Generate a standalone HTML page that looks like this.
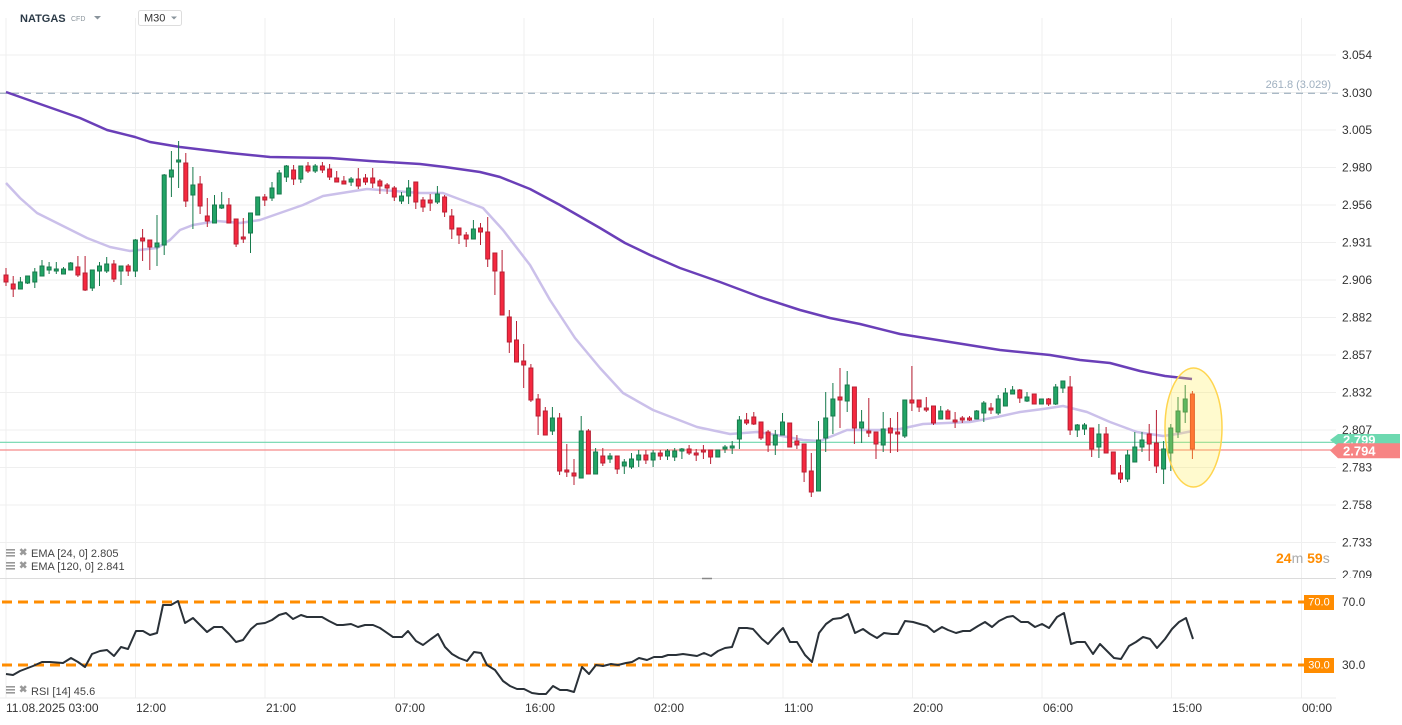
<!DOCTYPE html>
<html><head><meta charset="utf-8"><style>
html,body{margin:0;padding:0;background:#fff;}
svg{display:block;font-family:"Liberation Sans",Arial,sans-serif;}
</style></head><body>
<svg width="1402" height="725" viewBox="0 0 1402 725" xmlns="http://www.w3.org/2000/svg">
<defs><clipPath id="mainclip"><rect x="0" y="0" width="1402" height="578"/></clipPath></defs>
<rect width="1402" height="725" fill="#fff"/>
<!-- horizontal grid main -->
<g stroke="#efefef" stroke-width="1">
<path d="M0,55H1336M0,92.5H1336M0,130H1336M0,167.5H1336M0,205H1336M0,242.5H1336M0,280H1336M0,317.5H1336M0,355H1336M0,392.5H1336M0,430H1336M0,467.5H1336M0,505H1336M0,542.5H1336"/>
<path d="M6,18V698M135.5,18V698M265,18V698M394.5,18V698M524,18V698M653.5,18V698M783,18V698M912.5,18V698M1042,18V698M1171.5,18V698M1301.5,18V698"/>
</g>
<!-- panel separators -->
<path d="M0,578.5H1336" stroke="#dcdcdc" stroke-width="1"/>
<path d="M0,698H1336" stroke="#ececec" stroke-width="1"/>
<path d="M702,578.5H712" stroke="#888" stroke-width="1.5"/>
<!-- fib dashed line -->
<path d="M0,93.3H1338" stroke="#8ea2b4" stroke-width="1" stroke-dasharray="7,5"/>
<text x="1331" y="85" font-size="11" fill="#9fb0c0" text-anchor="end" dominant-baseline="central">261.8 (3.029)</text>
<!-- EMAs -->
<polyline fill="none" stroke="#cbc0ea" stroke-width="2.5" stroke-linejoin="round" points="6,183 20,198 37,213 67,228 87,238 110,247 130,251 157,248 170,240 180,230 193,225 217,221 240,223 260,220 280,213 303,205 323,196 367,189 420,193 443,193 483,208 503,230 530,265 550,300 575,338 600,368 623,393 653,410 697,427 730,434 757,432 777,435 803,440 820,441 847,430 880,430 900,429 923,424 970,422 997,417 1020,412 1043,409 1063,406 1087,412 1110,422 1137,432 1163,436 1177,434 1193,431"/>
<polyline fill="none" stroke="#6a3fb8" stroke-width="2.5" stroke-linejoin="round" points="6,92 40,104 80,118 107,130 135,137 150,142 180,147 230,153 270,157 330,158 370,161 420,164 445,167 480,172 500,177 515,183 530,189 560,205 600,228 625,243 650,255 680,268 720,282 760,297 800,310 830,318 860,324 900,334 950,342 1000,350 1050,355 1080,360 1110,363 1140,371 1165,376 1192,379"/>
<!-- price lines -->
<path d="M0,442.3H1334" stroke="#6fd6ad" stroke-width="1.2"/>
<path d="M0,450H1334" stroke="#f58a8a" stroke-width="1.2"/>
<!-- green candles -->
<path fill="none" stroke="#177a4c" stroke-width="1" d="M20.4,277V289M27.6,276V284M34.8,268V288M42,260V276M49.1,262V274M56.3,262V274M63.5,267V274M70.7,262V270M92.3,270V291M99.5,262V286M106.7,257V273M121,266V285M135.4,239V277M157,215V266M164.2,174V255M171.4,151V197M178.6,141V188M192.9,167V229M214.5,195V223M221.7,192V209M250.5,213V253M257.7,197V215M272,182V201M279.2,170V194M286.4,165V182M300.8,166V183M315.2,164V173M351.1,177V186M401.5,192V204M408.6,180V204M437.4,186V204M473.4,220V239M552.4,407V435M581.2,416V478M595.6,448V474M610,453V463M624.3,459V474M631.5,453V469M638.7,450V467M653.1,450V467M667.5,449V460M674.7,448V461M681.9,448V459M717.8,450V457M725,445V453M732.2,441V454M739.4,416V449M775.3,430V455M782.5,413V435M818.5,421V491M825.7,392V452M832.9,383V434M847.2,371V412M861.6,410V443M883.2,412V452M904.8,400V438M940.7,406V419M976.7,410V419M983.8,401V422M998.2,395V415M1005.4,388V406M1012.6,386V394M1027,392V402M1041.4,399V404M1055.7,384V405M1062.9,381V393M1077.3,424V437M1084.5,423V435M1098.9,424V458M1127.6,450V482M1134.8,432V462M1142,432V452M1163.6,441V484M1170.8,424V471M1178,397V438M1185.2,385V423"/>
<path fill="#22a466" stroke="#177a4c" stroke-width="1" d="M18.4,282h4v7h-4zM25.6,276h4v7h-4zM32.8,272h4v10h-4zM40,266h4v10h-4zM47.1,267h4v3h-4zM54.3,269h4v2h-4zM61.5,269h4v5h-4zM68.7,263h4v7h-4zM90.3,270h4v18h-4zM97.5,266h4v5h-4zM104.7,264h4v7h-4zM119,266h4v5h-4zM133.4,240h4v31h-4zM155,243h4v4h-4zM162.2,175h4v70h-4zM169.4,170h4v7h-4zM176.6,160h4v2h-4zM190.9,185h4v10h-4zM212.5,205h4v18h-4zM219.7,205h4v3h-4zM248.5,213h4v20h-4zM255.7,197h4v18h-4zM270,188h4v10h-4zM277.2,173h4v21h-4zM284.4,166h4v11h-4zM298.8,166h4v13h-4zM313.2,166h4v5h-4zM349.1,179h4v3h-4zM399.5,196h4v5h-4zM406.6,188h4v8h-4zM435.4,194h4v8h-4zM471.4,229h4v10h-4zM550.4,418h4v13h-4zM579.2,431h4v47h-4zM593.6,452h4v22h-4zM608,456h4v3h-4zM622.3,462h4v4h-4zM629.5,459h4v8h-4zM636.7,455h4v5h-4zM651.1,453h4v7h-4zM665.5,451h4v5h-4zM672.7,451h4v6h-4zM679.9,449h4v2h-4zM715.8,450h4v7h-4zM723,447h4v2h-4zM730.2,446h4v2h-4zM737.4,420h4v19h-4zM773.3,435h4v10h-4zM780.5,422h4v13h-4zM816.5,440h4v51h-4zM823.7,418h4v20h-4zM830.9,399h4v17h-4zM845.2,385h4v16h-4zM859.6,422h4v6h-4zM881.2,429h4v16h-4zM902.8,400h4v36h-4zM938.7,411h4v8h-4zM974.7,411h4v8h-4zM981.8,403h4v10h-4zM996.2,399h4v14h-4zM1003.4,393h4v13h-4zM1010.6,390h4v4h-4zM1025,397h4v4h-4zM1039.4,399h4v5h-4zM1053.7,387h4v17h-4zM1060.9,381h4v7h-4zM1075.3,425h4v5h-4zM1082.5,425h4v4h-4zM1096.9,434h4v13h-4zM1125.6,455h4v24h-4zM1132.8,447h4v15h-4zM1140,440h4v7h-4zM1161.6,449h4v20h-4zM1168.8,428h4v25h-4zM1176,411h4v21h-4zM1183.2,399h4v13h-4z"/>
<!-- red candles -->
<path fill="none" stroke="#b81f33" stroke-width="1" d="M6,268V286M13.2,276V297M77.9,256V277M85.1,256V291M113.9,260V282M128.2,264V276M142.6,229V261M149.8,240V270M185.8,153V207M200.1,176V214M207.3,198V227M228.9,198V223M236.1,219V247M243.3,218V243M264.8,194V206M293.6,165V185M308,162V173M322.4,162V173M329.6,164V180M336.7,171V182M343.9,176V184M358.3,168V189M365.5,174V185M372.7,168V188M379.9,179V194M387.1,183V194M394.3,186V201M415.8,182V209M423,197V212M430.2,194V211M444.6,195V217M451.8,209V239M459,228V244M466.2,232V247M480.5,223V245M487.7,217V267M494.9,253V295M502.1,250V315M509.3,310V353M516.5,321V362M523.7,344V388M530.9,364V402M538.1,394V435M545.3,407V435M559.6,413V475M566.8,444V477M574,459V485M588.4,429V474M602.8,448V466M617.2,456V474M645.9,450V464M660.3,450V460M689.1,445V455M696.2,449V461M703.4,445V459M710.6,450V464M746.6,413V425M753.8,412V425M761,422V440M768.1,430V452M789.7,423V447M796.9,435V449M804.1,444V482M811.3,453V497M840,368V428M854.4,387V444M868.8,398V437M876,432V459M890.4,418V453M897.6,412V452M911.9,366V411M919.1,400V412M926.3,397V412M933.5,406V425M947.9,409V419M955.1,412V428M962.3,416V423M969.5,416V421M991,403V414M1019.8,389V403M1034.2,394V404M1048.6,398V406M1070.1,376V435M1091.7,428V457M1106.1,427V453M1113.3,452V474M1120.5,465V483M1149.2,424V461M1156.4,410V473"/>
<path fill="#f5293f" stroke="#b81f33" stroke-width="1" d="M4,275h4v7h-4zM11.2,284h4v5h-4zM75.9,267h4v8h-4zM83.1,273h4v17h-4zM111.9,264h4v15h-4zM126.2,266h4v5h-4zM140.6,238h4v3h-4zM147.8,240h4v7h-4zM183.8,163h4v38h-4zM198.1,184h4v22h-4zM205.3,216h4v5h-4zM226.9,205h4v18h-4zM234.1,219h4v25h-4zM241.3,237h4v2h-4zM262.8,197h4v3h-4zM291.6,170h4v9h-4zM306,166h4v5h-4zM320.4,166h4v4h-4zM327.6,169h4v8h-4zM334.7,178h4v4h-4zM341.9,181h4v3h-4zM356.3,179h4v7h-4zM363.5,178h4v4h-4zM370.7,178h4v5h-4zM377.9,181h4v5h-4zM385.1,185h4v3h-4zM392.3,188h4v9h-4zM413.8,182h4v20h-4zM421,200h4v7h-4zM428.2,200h4v3h-4zM442.6,197h4v15h-4zM449.8,216h4v13h-4zM457,228h4v7h-4zM464.2,235h4v4h-4zM478.5,228h4v4h-4zM485.7,232h4v27h-4zM492.9,253h4v18h-4zM500.1,272h4v43h-4zM507.3,317h4v25h-4zM514.5,340h4v22h-4zM521.7,361h4v4h-4zM528.9,368h4v32h-4zM536.1,399h4v17h-4zM543.3,411h4v24h-4zM557.6,418h4v53h-4zM564.8,470h4v2h-4zM572,473h4v3h-4zM586.4,431h4v43h-4zM600.8,456h4v7h-4zM615.2,456h4v13h-4zM643.9,455h4v5h-4zM658.3,453h4v3h-4zM687.1,449h4v4h-4zM694.2,453h4v2h-4zM701.4,450h4v2h-4zM708.6,450h4v7h-4zM744.6,420h4v3h-4zM751.8,417h4v7h-4zM759,422h4v16h-4zM766.1,432h4v13h-4zM787.7,423h4v24h-4zM794.9,441h4v4h-4zM802.1,444h4v28h-4zM809.3,471h4v21h-4zM838,397h4v3h-4zM852.4,387h4v41h-4zM866.8,431h4v2h-4zM874,432h4v12h-4zM888.4,428h4v5h-4zM895.6,432h4v2h-4zM909.9,400h4v3h-4zM917.1,400h4v7h-4zM924.3,408h4v2h-4zM931.5,406h4v17h-4zM945.9,411h4v8h-4zM953.1,420h4v2h-4zM960.3,418h4v2h-4zM967.5,418h4v2h-4zM989,408h4v2h-4zM1017.8,390h4v8h-4zM1032.2,394h4v10h-4zM1046.6,399h4v5h-4zM1068.1,387h4v43h-4zM1089.7,428h4v21h-4zM1104.1,434h4v19h-4zM1111.3,452h4v22h-4zM1118.5,473h4v6h-4zM1147.2,434h4v10h-4zM1154.4,443h4v23h-4z"/>
<!-- live candle -->
<path d="M1192.4,391V459" stroke="#d8321f" stroke-width="1"/>
<rect x="1190.4" y="394" width="4" height="55" fill="#ff4a2a" stroke="#d8321f" stroke-width="1"/>
<!-- highlight ellipse -->
<ellipse cx="1193.5" cy="427.5" rx="28.5" ry="59.5" fill="rgba(255,236,80,0.28)" stroke="#ffd54f" stroke-width="1.5"/>
<!-- price axis labels -->
<g font-size="12" fill="#333" dominant-baseline="central" clip-path="url(#mainclip)">
<text x="1342" y="55">3.054</text>
<text x="1342" y="93">3.030</text>
<text x="1342" y="130">3.005</text>
<text x="1342" y="167.5">2.980</text>
<text x="1342" y="205">2.956</text>
<text x="1342" y="242.5">2.931</text>
<text x="1342" y="280">2.906</text>
<text x="1342" y="317.5">2.882</text>
<text x="1342" y="355">2.857</text>
<text x="1342" y="392.5">2.832</text>
<text x="1342" y="430">2.807</text>
<text x="1342" y="467.5">2.783</text>
<text x="1342" y="505">2.758</text>
<text x="1342" y="542.5">2.733</text>
<text x="1342" y="575">2.709</text>
</g>
<!-- price tags -->
<path d="M1330,440L1338,434H1400V446H1338Z" fill="#6dd9b0"/>
<text x="1343" y="440" font-size="13" fill="#fff" font-weight="bold" dominant-baseline="central">2.799</text>
<path d="M1330,450.5L1338,443.3H1400V458.3H1338Z" fill="#f78484"/>
<text x="1343" y="451" font-size="13" fill="#fff" font-weight="bold" dominant-baseline="central">2.794</text>
<!-- timer -->
<text x="1276" y="558" font-size="14" dominant-baseline="central"><tspan fill="#ff8c00" font-weight="bold">24</tspan><tspan fill="#aaa">m </tspan><tspan fill="#ff8c00" font-weight="bold">59</tspan><tspan fill="#aaa">s</tspan></text>
<!-- EMA legend -->
<g font-size="11" fill="#444" dominant-baseline="central">
<g fill="#999"><rect x="6" y="549" width="9" height="1.6"/><rect x="6" y="552" width="9" height="1.6"/><rect x="6" y="555" width="9" height="1.6"/>
<rect x="6" y="562" width="9" height="1.6"/><rect x="6" y="565" width="9" height="1.6"/><rect x="6" y="568" width="9" height="1.6"/>
<rect x="6" y="686" width="9" height="1.6"/><rect x="6" y="689" width="9" height="1.6"/><rect x="6" y="692" width="9" height="1.6"/></g>
<text x="19" y="553" fill="#999" font-size="10" font-weight="bold">✖</text>
<text x="31" y="554">EMA [24,  0] 2.805</text>
<text x="19" y="566" fill="#999" font-size="10" font-weight="bold">✖</text>
<text x="31" y="567">EMA [120,  0] 2.841</text>
<text x="19" y="690" fill="#999" font-size="10" font-weight="bold">✖</text>
<text x="31" y="692">RSI  [14]  45.6</text>
</g>
<!-- RSI levels -->
<path d="M2,602H1304M2,665H1304" stroke="#ff8c00" stroke-width="3" stroke-dasharray="10,6"/>
<rect x="1304" y="595" width="30" height="15" fill="#ff8c00"/>
<text x="1319" y="602.5" font-size="11" fill="#fff" text-anchor="middle" dominant-baseline="central">70.0</text>
<rect x="1304" y="658" width="30" height="15" fill="#ff8c00"/>
<text x="1319" y="665.5" font-size="11" fill="#fff" text-anchor="middle" dominant-baseline="central">30.0</text>
<text x="1342" y="602" font-size="12" fill="#333" dominant-baseline="central">70.0</text>
<text x="1342" y="665" font-size="12" fill="#333" dominant-baseline="central">30.0</text>
<!-- RSI line -->
<polyline fill="none" stroke="#2a3138" stroke-width="2" stroke-linejoin="round" points="6,674 13,675 20,671 33,666 42,662 50,662 63,663 71,658 78,662 85,667 92,654 100,651 107,650 114,656 121,647 128,649 136,631 143,631 150,635 157,633 163,605 171,605 178,601 185,623 193,618 200,625 207,632 214,627 222,627 229,634 236,642 243,640 251,629 257,624 265,623 272,620 279,615 286,613 293,619 301,615 307,617 315,617 322,617 329,621 337,625 343,625 351,624 358,627 365,625 373,625 380,628 393,637 402,637 408,631 416,641 423,645 431,639 438,634 445,647 452,654 459,658 467,661 474,652 481,653 487,665 495,670 503,681 510,686 517,689 524,689 532,693 539,694 546,694 553,686 560,690 567,690 574,692 582,667 589,674 596,665 603,666 611,664 618,665 626,663 632,662 639,658 647,660 654,657 662,657 668,655 676,655 683,654 690,655 697,656 704,653 711,656 718,651 725,648 732,647 739,628 747,628 753,629 762,639 768,644 776,635 783,628 790,642 797,642 805,655 812,662 819,633 826,624 833,619 841,618 848,614 855,633 863,629 870,634 877,638 884,633 892,634 898,634 905,621 913,622 920,624 927,626 934,632 942,627 948,630 956,633 963,631 970,631 978,626 985,622 992,627 999,621 1007,617 1013,616 1021,622 1028,622 1035,627 1042,624 1049,628 1057,617 1064,613 1071,644 1077,642 1085,642 1093,654 1100,644 1107,651 1114,658 1121,659 1129,646 1136,642 1143,637 1150,639 1157,648 1165,639 1172,629 1179,622 1186,618 1193,639"/>
<!-- time axis -->
<g font-size="12" fill="#333" dominant-baseline="central">
<text x="6" y="708">11.08.2025  03:00</text>
<text x="136" y="708">12:00</text>
<text x="266" y="708">21:00</text>
<text x="395" y="708">07:00</text>
<text x="525" y="708">16:00</text>
<text x="654" y="708">02:00</text>
<text x="784" y="708">11:00</text>
<text x="913" y="708">20:00</text>
<text x="1043" y="708">06:00</text>
<text x="1172" y="708">15:00</text>
<text x="1302" y="708">00:00</text>
</g>
<!-- header -->
<rect x="0" y="0" width="1402" height="17" fill="#fff"/>
<text x="20" y="19" font-size="11" font-weight="bold" fill="#2b3a47" dominant-baseline="central">NATGAS</text>
<text x="71" y="19.5" font-size="7" fill="#8a949c" dominant-baseline="central">CFD</text>
<path d="M94,16H101L97.5,19.5Z" fill="#8a949c"/>
<rect x="138.5" y="10.5" width="43" height="15" rx="2" fill="#fff" stroke="#dddddd"/>
<text x="144" y="18.5" font-size="11" fill="#333" dominant-baseline="central">M30</text>
<path d="M171,16.5H177L174,19.5Z" fill="#8a949c"/>
</svg>
</body></html>
